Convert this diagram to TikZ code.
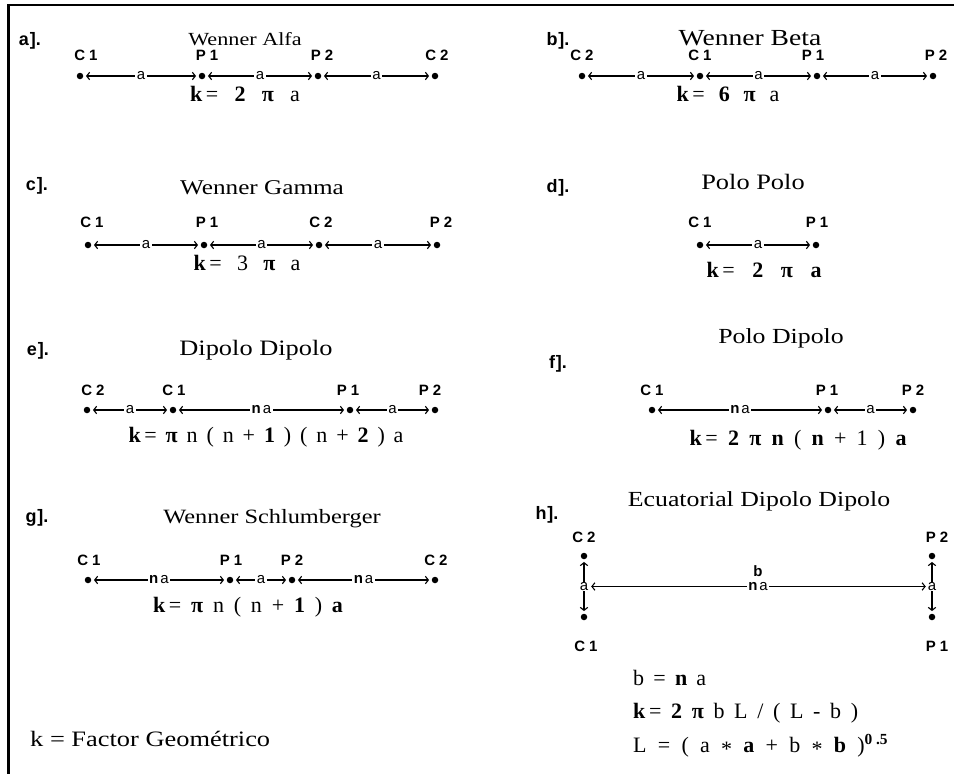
\documentclass[tikz,border=0pt]{standalone}
\usepackage{fontspec}
\setmainfont{Liberation Serif}
\newfontfamily\ttlfont[FakeStretch=1.2]{Liberation Serif}
\newfontfamily\sansf{Liberation Sans}
\usetikzlibrary{arrows.meta}
\newcommand\fs[1]{\fontsize{#1}{#1}\selectfont}
\newcommand\pib{\textbf{π}}
\newcommand\astk{\raisebox{-4pt}{*}}
\newcommand\el[2]{#1\hspace{4pt}#2}
\tikzset{
  dot/.style={circle,fill=black,inner sep=0pt,minimum size=6.5pt},
  elab/.style={anchor=base,inner sep=0pt,font=\sansf\bfseries\fs{15}},
  tag/.style={anchor=base,inner sep=0pt,font=\sansf\bfseries\fs{18}},
  dim/.style={line width=1.1pt,{Straight Barb[length=3pt,width=7.5pt]}-{Straight Barb[length=3pt,width=7.5pt]},shorten <=2.5pt,shorten >=2.5pt},
  dlab/.style={fill=white,inner sep=1.5pt,font=\sansf\fs{15}},
  ttl/.style={anchor=base,inner sep=0pt},
  frm/.style={anchor=base,inner sep=0pt,font=\fs{22}},
  frml/.style={anchor=base west,inner sep=0pt,font=\fs{22}},
}
\begin{document}
\begin{tikzpicture}[x=1pt,y=-1pt]
\useasboundingbox (0,0) rectangle (954,774);
\draw[line width=2.5pt] (8.5,774) -- (8.5,5) -- (954,5);

% ---------- a) Wenner Alfa
\node[tag] (tA) at (30,45) {a\hspace{1pt}].};
\node[ttl,font=\ttlfont\fs{18.5}] (hA) at (245,45) {Wenner Alfa};
\node[elab] (lA1) at (86,60) {\el C1};
\node[elab] (lA2) at (207,60) {\el P1};
\node[elab] (lA3) at (322,60) {\el P2};
\node[elab] (lA4) at (437,60) {\el C2};
\node[dot] (dA1) at (80,76) {};
\node[dot] (dA2) at (202,76) {};
\node[dot] (dA3) at (318,76) {};
\node[dot] (dA4) at (435,76) {};
\draw[dim] (dA1) -- node[dlab] (mA1) {a} (dA2);
\draw[dim] (dA2) -- node[dlab] (mA2) {a} (dA3);
\draw[dim] (dA3) -- node[dlab] (mA3) {a} (dA4);
\node[frm] (fA) at (245,101) {\makebox[110pt][s]{\textbf{k}\,= \textbf{2} \pib{} a}};

% ---------- b) Wenner Beta
\node[tag] (tB) at (558,45) {b\hspace{1pt}].};
\node[ttl,font=\ttlfont\fs{23}] (hB) at (750,45) {Wenner Beta};
\node[elab] (lB1) at (582,60) {\el C2};
\node[elab] (lB2) at (700,60) {\el C1};
\node[elab] (lB3) at (813,60) {\el P1};
\node[elab] (lB4) at (936,60) {\el P2};
\node[dot] (dB1) at (582,76) {};
\node[dot] (dB2) at (700,76) {};
\node[dot] (dB3) at (817,76) {};
\node[dot] (dB4) at (933,76) {};
\draw[dim] (dB1) -- node[dlab] (mB1) {a} (dB2);
\draw[dim] (dB2) -- node[dlab] (mB2) {a} (dB3);
\draw[dim] (dB3) -- node[dlab] (mB3) {a} (dB4);
\node[frm] (fB) at (728,101) {\makebox[103pt][s]{\textbf{k}\,= \textbf{6} \pib{} a}};

% ---------- c) Wenner Gamma
\node[tag] (tC) at (37,190) {c\hspace{1pt}].};
\node[ttl,font=\ttlfont\fs{21}] (hC) at (262,194) {Wenner Gamma};
\node[elab] (lC1) at (92,227) {\el C1};
\node[elab] (lC2) at (207,227) {\el P1};
\node[elab] (lC3) at (321,227) {\el C2};
\node[elab] (lC4) at (441,227) {\el P2};
\node[dot] (dC1) at (88,245) {};
\node[dot] (dC2) at (204,245) {};
\node[dot] (dC3) at (319,245) {};
\node[dot] (dC4) at (437,245) {};
\draw[dim] (dC1) -- node[dlab] (mC1) {a} (dC2);
\draw[dim] (dC2) -- node[dlab] (mC2) {a} (dC3);
\draw[dim] (dC3) -- node[dlab] (mC3) {a} (dC4);
\node[frm] (fC) at (247,270) {\makebox[107pt][s]{\textbf{k}\,= 3 \pib{} a}};

% ---------- d) Polo Polo
\node[tag] (tD) at (558,192) {d\hspace{1pt}].};
\node[ttl,font=\ttlfont\fs{22}] (hD) at (753,189) {Polo Polo};
\node[elab] (lD1) at (700,227) {\el C1};
\node[elab] (lD2) at (817,227) {\el P1};
\node[dot] (dD1) at (700,245) {};
\node[dot] (dD2) at (816,245) {};
\draw[dim] (dD1) -- node[dlab] (mD1) {a} (dD2);
\node[frm] (fD) at (764,277) {\makebox[115pt][s]{\textbf{k}\,= \textbf{2} \pib{} \textbf{a}}};

% ---------- e) Dipolo Dipolo
\node[tag] (tE) at (38,355) {e\hspace{1pt}].};
\node[ttl,font=\ttlfont\fs{22}] (hE) at (256,355) {Dipolo Dipolo};
\node[elab] (lE1) at (93,395) {\el C2};
\node[elab] (lE2) at (174,395) {\el C1};
\node[elab] (lE3) at (348,395) {\el P1};
\node[elab] (lE4) at (430,395) {\el P2};
\node[dot] (dE1) at (87,410) {};
\node[dot] (dE2) at (173,410) {};
\node[dot] (dE3) at (350,410) {};
\node[dot] (dE4) at (435,410) {};
\draw[dim] (dE1) -- node[dlab] (mE1) {a} (dE2);
\draw[dim] (dE2) -- node[dlab] (mE2) {\textbf{n}\hspace{2pt}a} (dE3);
\draw[dim] (dE3) -- node[dlab] (mE3) {a} (dE4);
\node[frm] (fE) at (266,442) {\makebox[275pt][s]{\textbf{k}\,= \pib{} n ( n + \textbf{1} ) ( n + \textbf{2} ) a}};

% ---------- f) Polo Dipolo
\node[tag] (tF) at (558,368) {f\hspace{1pt}].};
\node[ttl,font=\ttlfont\fs{21.5}] (hF) at (781,343) {Polo Dipolo};
\node[elab] (lF1) at (652,395) {\el C1};
\node[elab] (lF2) at (827,395) {\el P1};
\node[elab] (lF3) at (913,395) {\el P2};
\node[dot] (dF1) at (652,410) {};
\node[dot] (dF2) at (828,410) {};
\node[dot] (dF3) at (913,410) {};
\draw[dim] (dF1) -- node[dlab] (mF1) {\textbf{n}\hspace{2pt}a} (dF2);
\draw[dim] (dF2) -- node[dlab] (mF2) {a} (dF3);
\node[frm] (fF) at (798,445) {\makebox[217pt][s]{\textbf{k}\,= \textbf{2} \pib{} \textbf{n} ( \textbf{n} + 1 ) \textbf{a}}};

% ---------- g) Wenner Schlumberger
\node[tag] (tG) at (37,522) {g\hspace{1pt}].};
\node[ttl,font=\ttlfont\fs{20.3}] (hG) at (272,523) {Wenner Schlumberger};
\node[elab] (lG1) at (89,565) {\el C1};
\node[elab] (lG2) at (231,565) {\el P1};
\node[elab] (lG3) at (292,565) {\el P2};
\node[elab] (lG4) at (436,565) {\el C2};
\node[dot] (dG1) at (88,580) {};
\node[dot] (dG2) at (230,580) {};
\node[dot] (dG3) at (292,580) {};
\node[dot] (dG4) at (435,580) {};
\draw[dim] (dG1) -- node[dlab] (mG1) {\textbf{n}\hspace{2pt}a} (dG2);
\draw[dim] (dG2) -- node[dlab] (mG2) {a} (dG3);
\draw[dim] (dG3) -- node[dlab] (mG3) {\textbf{n}\hspace{2pt}a} (dG4);
\node[frm] (fG) at (248,612) {\makebox[190pt][s]{\textbf{k}\,= \pib{} n ( n + \textbf{1} ) \textbf{a}}};

% ---------- h) Ecuatorial Dipolo Dipolo
\node[tag] (tH) at (547,519) {h\hspace{1pt}].};
\node[ttl,font=\ttlfont\fs{21.5}] (hH) at (759,506) {Ecuatorial Dipolo Dipolo};
\node[elab] (lH1) at (584,542) {\el C2};
\node[elab] (lH2) at (586,651) {\el C1};
\node[elab] (lH3) at (937,542) {\el P2};
\node[elab] (lH4) at (937,651) {\el P1};
\node[dot] (dH1) at (584,556) {};
\node[dot] (dH2) at (584,617) {};
\node[dot] (dH3) at (932,556) {};
\node[dot] (dH4) at (932,617) {};
\draw[dim] (dH1) -- node[dlab,inner sep=0.5pt] (mHl) {a} (dH2);
\draw[dim] (dH3) -- node[dlab,inner sep=0.5pt] (mHr) {a} (dH4);
\draw[dim,shorten <=2pt,shorten >=1pt] (mHl) -- node[dlab] (mHn) {\textbf{n}\hspace{2pt}a} (mHr);
\node[dlab,fill=none,font=\sansf\bfseries\fs{15}] (mHb) at (758,571) {b};
\node[frml] (fH1) at (633,685) {\makebox[73pt][s]{b = \textbf{n} a}};
\node[frml] (fH2) at (633,718) {\makebox[225pt][s]{\textbf{k}\,= \textbf{2} \pib{} b L / ( L - b )}};
\node[frml] (fH3) at (633,752) {\makebox[255pt][s]{L = ( a \astk{} \textbf{a} + b \astk{} \textbf{b} )\textsuperscript{\textbf{0 .5}}}};

% ---------- legend
\node[anchor=base west,inner sep=0pt,font=\ttlfont\fs{22}] (kf) at (30,746) {k = Factor Geométrico};
\end{tikzpicture}
\end{document}
